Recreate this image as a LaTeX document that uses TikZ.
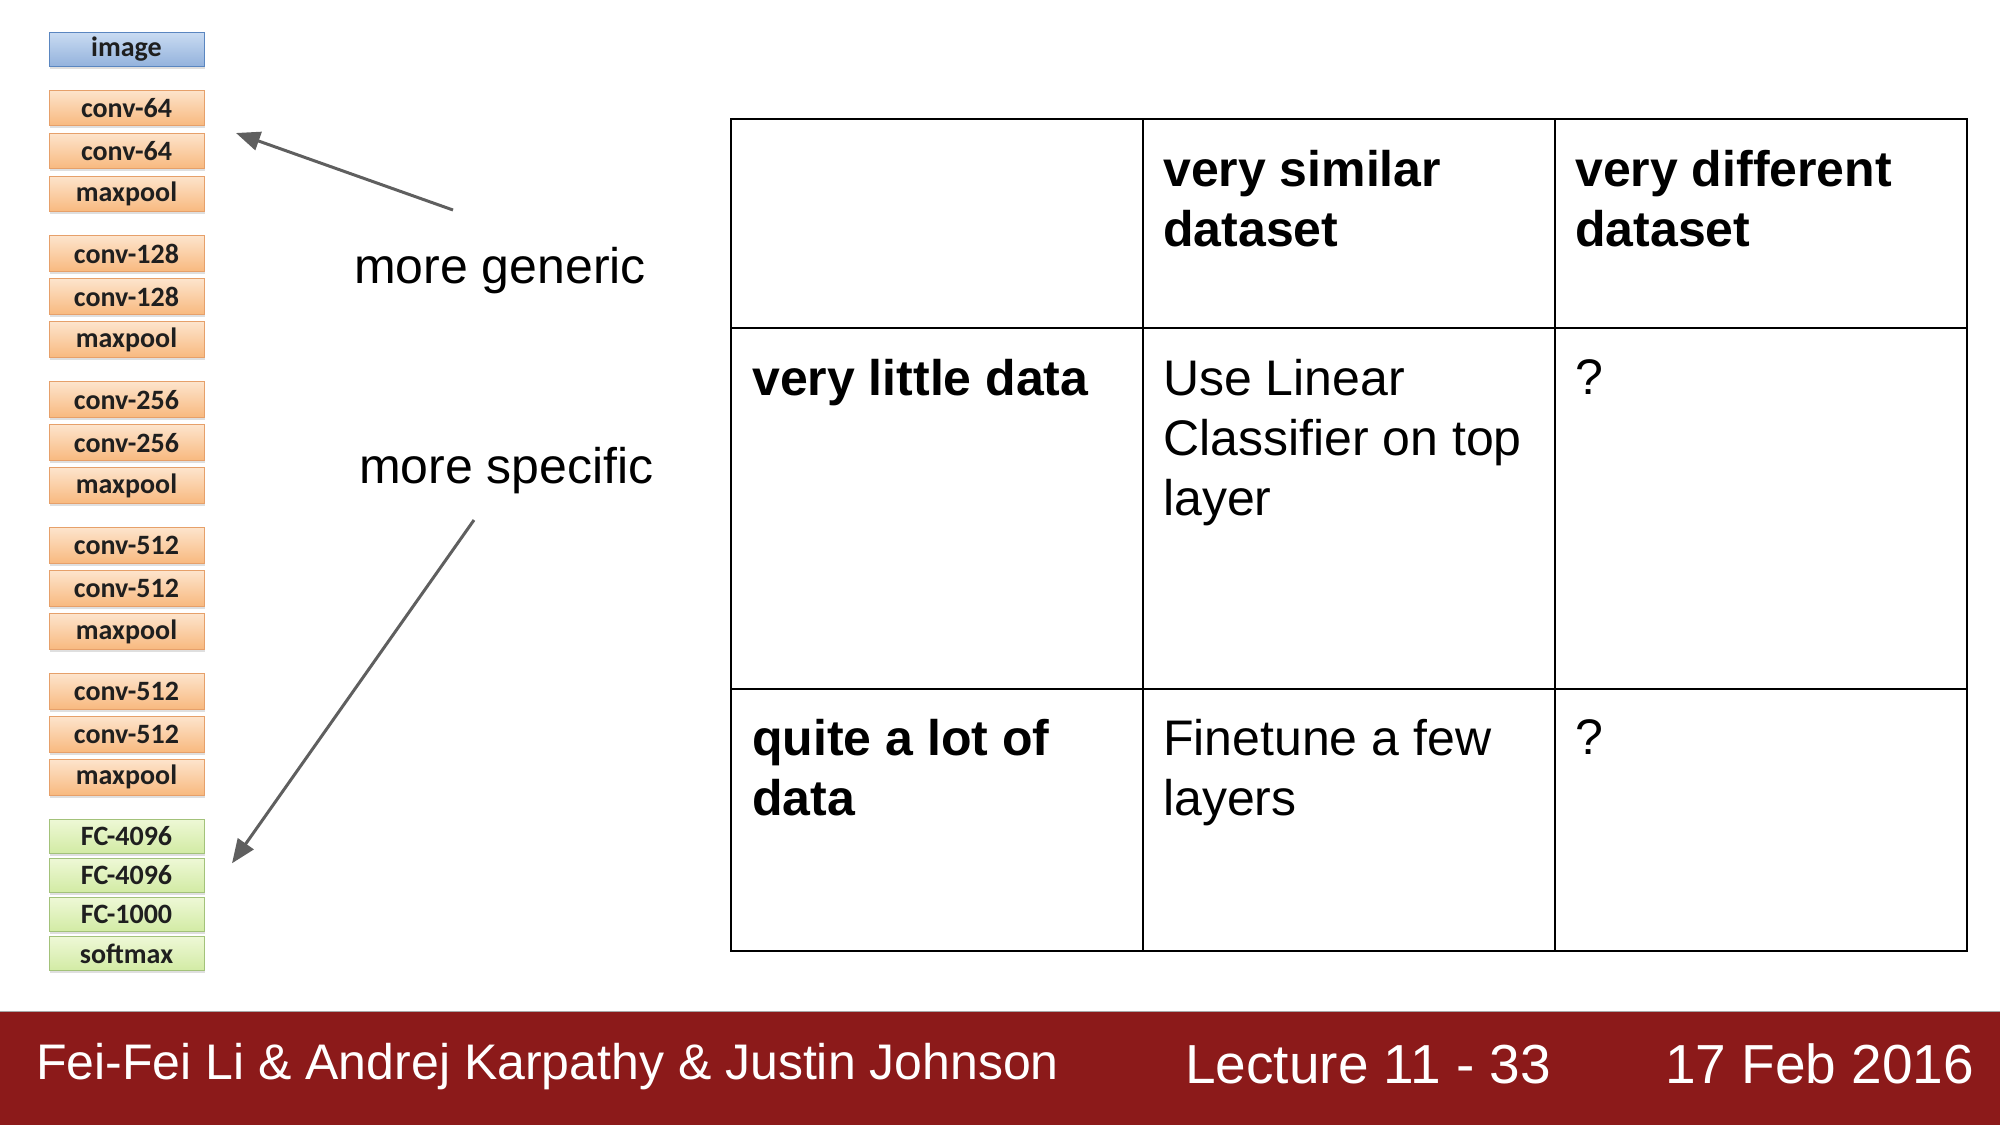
\documentclass[tikz,border=0pt]{standalone}
\usepackage{fontspec}
\setmainfont{Liberation Sans}
\newfontfamily\layerfont{Carlito}
\usepackage{tikz}
\usetikzlibrary{positioning}
\usetikzlibrary{arrows.meta, positioning, calc, shadows}
\definecolor{colInputTop}{HTML}{C9DBF2}
\definecolor{colInputBot}{HTML}{93B2DC}
\definecolor{strokeInput}{HTML}{5A86C0}
\definecolor{colConvTop}{HTML}{FDE4CC}
\definecolor{colConvBot}{HTML}{F8B97F}
\definecolor{strokeConv}{HTML}{E6A06A}
\definecolor{colFcTop}{HTML}{EEF8D6}
\definecolor{colFcBot}{HTML}{D2EBA4}
\definecolor{strokeFc}{HTML}{A3C27A}
\definecolor{colArrow}{HTML}{5F5F5F}
\definecolor{colFooter}{HTML}{8C1A1A}

\begin{document}
\begin{tikzpicture}[
				x=1pt, y=-1pt,
				node distance=7.5pt,
				% Node Styles
				layerbase/.style={draw, line width=1pt, inner sep=0pt, outer sep=0pt, minimum width=155pt, minimum height=35.5pt,
					font=\layerfont\bfseries\fontsize{28}{30}\selectfont, text=black!88,
					drop shadow={shadow xshift=1pt, shadow yshift=-2.5pt, opacity=0.25}},
				inputlayer/.style={layerbase, top color=colInputTop, bottom color=colInputBot, draw=strokeInput, minimum height=34pt},
				convlayer/.style={layerbase, top color=colConvTop, bottom color=colConvBot, draw=strokeConv},
				fclayer/.style={layerbase, top color=colFcTop, bottom color=colFcBot, draw=strokeFc, minimum height=34pt},
				note/.style={anchor=base west, inner sep=0pt, font=\fontsize{50}{60}\selectfont},
				cell/.style={anchor=north west, inner sep=0pt, align=left, font=\fontsize{50}{60}\selectfont},
				head/.style={cell, font=\bfseries\fontsize{50}{60}\selectfont},
				grid/.style={line width=2pt, black},
				arrow/.style={-{Triangle[length=24pt, width=19pt]}, line width=3pt, colArrow},
				footer/.style={anchor=base west, inner sep=0pt, text=white}
				]
				\useasboundingbox (0,0) rectangle (2000,1125);
				
				%% ================= LAYER STACK =================
				\node[inputlayer] (image) at (126.5,49.5) {image};
				\node[convlayer, below=23.5pt of image] (conv1a) {conv-64};
				\node[convlayer, below=of conv1a] (conv1b) {conv-64};
				\node[convlayer, below=of conv1b] (pool1) {maxpool};
				
				\node[convlayer, below=24.4pt of pool1] (conv2a) {conv-128};
				\node[convlayer, below=of conv2a] (conv2b) {conv-128};
				\node[convlayer, below=of conv2b] (pool2) {maxpool};
				
				\node[convlayer, below=24.4pt of pool2] (conv3a) {conv-256};
				\node[convlayer, below=of conv3a] (conv3b) {conv-256};
				\node[convlayer, below=of conv3b] (pool3) {maxpool};
				
				\node[convlayer, below=24.4pt of pool3] (conv4a) {conv-512};
				\node[convlayer, below=of conv4a] (conv4b) {conv-512};
				\node[convlayer, below=of conv4b] (pool4) {maxpool};
				
				\node[convlayer, below=24.4pt of pool4] (conv5a) {conv-512};
				\node[convlayer, below=of conv5a] (conv5b) {conv-512};
				\node[convlayer, below=of conv5b] (pool5) {maxpool};
				
				\node[fclayer, below=24pt of pool5] (fc6) {FC-4096};
				\node[fclayer, below=5.2pt of fc6] (fc7) {FC-4096};
				\node[fclayer, below=5.2pt of fc7] (fc8) {FC-1000};
				\node[fclayer, below=5.2pt of fc8] (softmax) {softmax};
				
				%% ================= NOTES + ARROWS =================
				\node[note] (generic) at (354,283) {more generic};
				\node[note] (specific) at (359,483) {more specific};
				
				\coordinate (genericfrom) at (453,210);
				\coordinate (genericto) at ($(conv1b.north east)+(32,0)$);
				\coordinate (specificfrom) at (474,520);
				\coordinate (specificto) at ($(fc7.east)+(28,-12)$);
				
				\draw[arrow] (genericfrom) -- (genericto);
				\draw[arrow] (specificfrom) -- (specificto);
				
				%% ================= TABLE =================
				\coordinate (tl) at (731,119);
				\coordinate (br) at (1967,951);
				\draw[grid] (tl) rectangle (br);
				\draw[grid] (1143,119) -- (1143,951);
				\draw[grid] (1555,119) -- (1555,951);
				\draw[grid] (731,328) -- (1967,328);
				\draw[grid] (731,689) -- (1967,689);
				
				% Header row
				\node[head] (similar) at (1163,150) {very similar\\dataset};
				\node[head] (different) at (1575,150) {very different\\dataset};
				
				% Row: little data
				\node[head] (little) at (752,359) {very little data};
				\node[cell] (linear) at (1163,359) {Use Linear\\Classifier on top\\layer};
				\node[cell] (unknownA) at (1575,359) {?};
				
				% Row: lots of data
				\node[head] (lots) at (752,719) {quite a lot of\\data};
				\node[cell] (finetune) at (1163,719) {Finetune a few\\layers};
				\node[cell] (unknownB) at (1575,719) {?};
				
				%% ================= FOOTER =================
				\fill[colFooter] (0,1011) rectangle (2000,1125);
				\draw[gray!70, line width=1pt] (0,1011) -- (2000,1011);
				\node[footer, font=\fontsize{50}{60}\selectfont] (authors) at (36,1079) {Fei-Fei Li \& Andrej Karpathy \& Justin Johnson};
				\node[footer, font=\fontsize{55}{66}\selectfont] (lecture) at (1185,1083) {Lecture 11 - 33};
				\node[footer, font=\fontsize{55}{66}\selectfont] (date) at (1665,1083) {17 Feb 2016};
				
\end{tikzpicture}
\end{document}
